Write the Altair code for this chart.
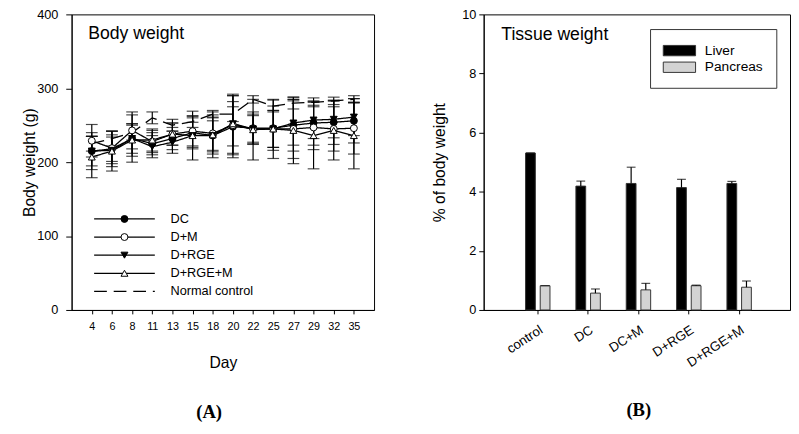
import altair as alt
import pandas as pd

FONT = "Liberation Sans"
SERIF = "Liberation Serif"

# ---------------- Panel A data (body weight, g) ----------------
days = [4, 6, 8, 11, 13, 15, 18, 20, 22, 25, 27, 29, 32, 35]
series = ["DC", "D+M", "D+RGE", "D+RGE+M", "Normal control"]
dc_mean = [215, 218, 232, 225, 232, 240, 236, 248, 246, 246, 250, 253, 254, 256]
dc_err = [25, 24, 32, 15, 15, 20, 25, 42, 22, 30, 35, 30, 30, 30]
dm_mean = [229, 219, 243, 228, 238, 242, 239, 250, 245, 245, 245, 247, 245, 246]
dm_err = [22, 18, 25, 15, 15, 20, 25, 40, 18, 25, 40, 30, 30, 35]
drge_mean = [215, 216, 232, 221, 227, 236, 236, 252, 245, 245, 253, 257, 258, 261]
drge_err = [20, 18, 20, 15, 15, 18, 20, 30, 20, 25, 30, 25, 25, 25]
drgem_mean = [207, 215, 230, 230, 238, 236, 237, 252, 244, 245, 243, 236, 243, 236]
drgem_err = [28, 27, 22, 15, 15, 33, 31, 40, 41, 40, 45, 45, 40, 45]
nc_mean = [225, 232, 240, 260, 250, 255, 265, 265, 285, 276, 280, 281, 283, 285]
nc_err = [10, 10, 10, 8, 8, 8, 5, 10, 5, 8, 8, 6, 5, 5]
title_a_text = "Body weight"
panel_a_label = "(A)"

# ---------------- Panel B data (% of body weight) ----------------
groups = ["control", "DC", "DC+M", "D+RGE", "D+RGE+M"]
tissues = ["Liver", "Pancreas"]
liver = [5.31, 4.19, 4.28, 4.14, 4.28]
liver_err = [0.0, 0.17, 0.55, 0.28, 0.07]
pancreas = [0.82, 0.57, 0.68, 0.82, 0.77]
pancreas_err = [0.0, 0.14, 0.22, 0.02, 0.21]
title_b_text = "Tissue weight"
panel_b_label = "(B)"

# ---------------- tables ----------------
means = [dc_mean, dm_mean, drge_mean, drgem_mean, nc_mean]
errs = [dc_err, dm_err, drge_err, drgem_err, nc_err]
rows = []
for name, m, e in zip(series, means, errs):
    for d, mv, ev in zip(days, m, e):
        rows.append({"day": d, "series": name, "mean": mv, "err": ev})
bw = pd.DataFrame(rows)

rows_b = []
for t, vals, es in [("Liver", liver, liver_err), ("Pancreas", pancreas, pancreas_err)]:
    for g, v, e in zip(groups, vals, es):
        rows_b.append({"group": g, "tissue": t, "value": v, "err": e})
tw = pd.DataFrame(rows_b)

W_A, W_B, H = 309, 313, 302

# ---------------- Panel A ----------------
base_a = alt.Chart(bw).transform_calculate(
    lo="datum.mean - datum.err", hi="datum.mean + datum.err"
)
x_day = alt.X(
    "day:O",
    scale=alt.Scale(type="point", padding=1),
    axis=alt.Axis(title="Day", labelAngle=0, labelFontSize=11, tickSize=4,
                  labelPadding=7, titleFontSize=16, titlePadding=24),
)
y_scale_a = alt.Scale(domain=[0, 400], nice=False)
y_axis_a = alt.Axis(title="Body weight (g)", values=[0, 100, 200, 300, 400],
                    tickSize=6, labelPadding=8, labelFontSize=13,
                    titleFontSize=16, titleX=-35)

err_rule = base_a.mark_rule(color="black", strokeWidth=1.2).encode(
    x=x_day, y=alt.Y("lo:Q", scale=y_scale_a, axis=y_axis_a), y2="hi:Q")
cap_hi = base_a.mark_tick(color="black", size=12, thickness=1.2).encode(
    x=x_day, y=alt.Y("hi:Q", scale=y_scale_a, axis=y_axis_a))
cap_lo = base_a.mark_tick(color="black", size=12, thickness=1.2).encode(
    x=x_day, y=alt.Y("lo:Q", scale=y_scale_a, axis=y_axis_a))

dash_scale = alt.Scale(domain=series, range=[[1, 0], [1, 0], [1, 0], [1, 0], [13, 7]])
lines = base_a.mark_line(color="black", strokeWidth=1.3).encode(
    x=x_day, y=alt.Y("mean:Q", scale=y_scale_a, axis=y_axis_a),
    strokeDash=alt.StrokeDash("series:N", scale=dash_scale, legend=None))

marker_series = series[:4]
shape_scale = alt.Scale(domain=marker_series,
                        range=["circle", "circle", "triangle-down", "triangle-up"])
fill_scale = alt.Scale(domain=marker_series, range=["black", "white", "black", "white"])
points = base_a.transform_filter(
    alt.FieldOneOfPredicate(field="series", oneOf=marker_series)
).mark_point(filled=True, stroke="black", strokeWidth=1, opacity=1, size=50).encode(
    x=x_day, y=alt.Y("mean:Q", scale=y_scale_a, axis=y_axis_a),
    shape=alt.Shape("series:N", scale=shape_scale, legend=None),
    fill=alt.Fill("series:N", scale=fill_scale, legend=None))

# in-plot legend (layout offsets in pixels)
leg_df = pd.DataFrame({"series": series, "row": list(range(len(series)))})
leg_base = alt.Chart(leg_df).transform_calculate(ly="209 + 18.5 * datum.row")
leg_y = alt.Y("ly:Q", scale=None, axis=None)
leg_line = leg_base.mark_rule(color="black", strokeWidth=1.3).encode(
    x=alt.value(23), x2=alt.value(85), y=leg_y,
    strokeDash=alt.StrokeDash("series:N", scale=dash_scale, legend=None))
leg_pts = leg_base.transform_filter(
    alt.FieldOneOfPredicate(field="series", oneOf=marker_series)
).mark_point(filled=True, stroke="black", strokeWidth=1, opacity=1, size=50).encode(
    x=alt.value(54), y=leg_y,
    shape=alt.Shape("series:N", scale=shape_scale, legend=None),
    fill=alt.Fill("series:N", scale=fill_scale, legend=None))
leg_txt = leg_base.mark_text(align="left", baseline="middle", fontSize=13,
                             font=FONT, color="black").encode(
    x=alt.value(101), y=leg_y, text="series:N")

title_a = alt.Chart(pd.DataFrame({"t": [title_a_text]})).mark_text(
    align="left", baseline="alphabetic", fontSize=18, font=FONT, color="black"
).encode(x=alt.value(17), y=alt.value(25), text="t:N")

panel_a = alt.layer(err_rule, cap_hi, cap_lo, lines, points,
                    leg_line, leg_pts, leg_txt, title_a).properties(
    width=W_A, height=H,
    title=alt.TitleParams(panel_a_label, orient="bottom", anchor="middle",
                          frame="group", font=SERIF, fontSize=19,
                          fontWeight="bold", color="black", offset=33, dx=-14))

# ---------------- Panel B ----------------
base_b = alt.Chart(tw).transform_calculate(top="datum.value + datum.err")
x_grp = alt.X(
    "group:N", sort=groups,
    scale=alt.Scale(paddingInner=0.515, paddingOuter=0.8, align=0.52),
    axis=alt.Axis(title=None, labelAngle=327, labelAlign="right",
                  labelBaseline="top", labelFontSize=13.5, tickSize=4,
                  labelPadding=9),
)
xo = alt.XOffset("tissue:N", sort=tissues,
                 scale=alt.Scale(paddingInner=0.333, paddingOuter=0))
y_scale_b = alt.Scale(domain=[0, 10], nice=False)
y_axis_b = alt.Axis(title="% of body weight", values=[0, 2, 4, 6, 8, 10],
                    tickSize=5, labelPadding=3, labelFontSize=13,
                    titleFontSize=16, titleX=-37)

bars = base_b.mark_bar(stroke="#333333", strokeWidth=1).encode(
    x=x_grp, xOffset=xo,
    y=alt.Y("value:Q", scale=y_scale_b, axis=y_axis_b),
    fill=alt.Fill("tissue:N", scale=alt.Scale(domain=tissues, range=["black", "#d3d3d3"]),
                  legend=alt.Legend(title=None, orient="none", legendX=170, legendY=15,
                                    symbolType="M-2,-0.64H2V0.64H-2Z", symbolSize=272,
                                    symbolOffset=8, labelOffset=17, padding=13,
                                    rowPadding=0, strokeColor="#333", fillColor="white",
                                    labelFontSize=14, labelFont=FONT, labelColor="black",
                                    symbolStrokeColor="#333", symbolStrokeWidth=1,
                                    symbolOpacity=1)),
)
err_b = base_b.mark_rule(color="black", strokeWidth=1.2).encode(
    x=x_grp, xOffset=xo,
    y=alt.Y("value:Q", scale=y_scale_b, axis=y_axis_b), y2="top:Q")
cap_b = base_b.mark_tick(color="black", size=9, thickness=1.2).encode(
    x=x_grp, xOffset=xo,
    y=alt.Y("top:Q", scale=y_scale_b, axis=y_axis_b))

title_b = alt.Chart(pd.DataFrame({"t": [title_b_text]})).mark_text(
    align="left", baseline="alphabetic", fontSize=18, font=FONT, color="black"
).encode(x=alt.value(18), y=alt.value(26), text="t:N")

panel_b = alt.layer(bars, err_b, cap_b, title_b).properties(
    width=W_B, height=H,
    title=alt.TitleParams(panel_b_label, orient="bottom", anchor="middle",
                          frame="group", font=SERIF, fontSize=19,
                          fontWeight="bold", color="black", offset=33, dx=2))

chart = alt.hconcat(panel_a, panel_b, spacing=57).resolve_scale(
    fill="independent", shape="independent", strokeDash="independent"
).resolve_legend(fill="independent").properties(
    padding={"left": 13, "top": -5, "right": 0, "bottom": -2}
).configure_view(stroke="black", strokeWidth=1).configure_axis(
    domainColor="black", tickColor="black", labelColor="black", titleColor="black",
    grid=False, labelFont=FONT, titleFont=FONT, titleFontWeight="normal",
    domainWidth=1, tickWidth=1,
)

chart.save("out.html", embed_options={"renderer": "svg", "actions": False})
